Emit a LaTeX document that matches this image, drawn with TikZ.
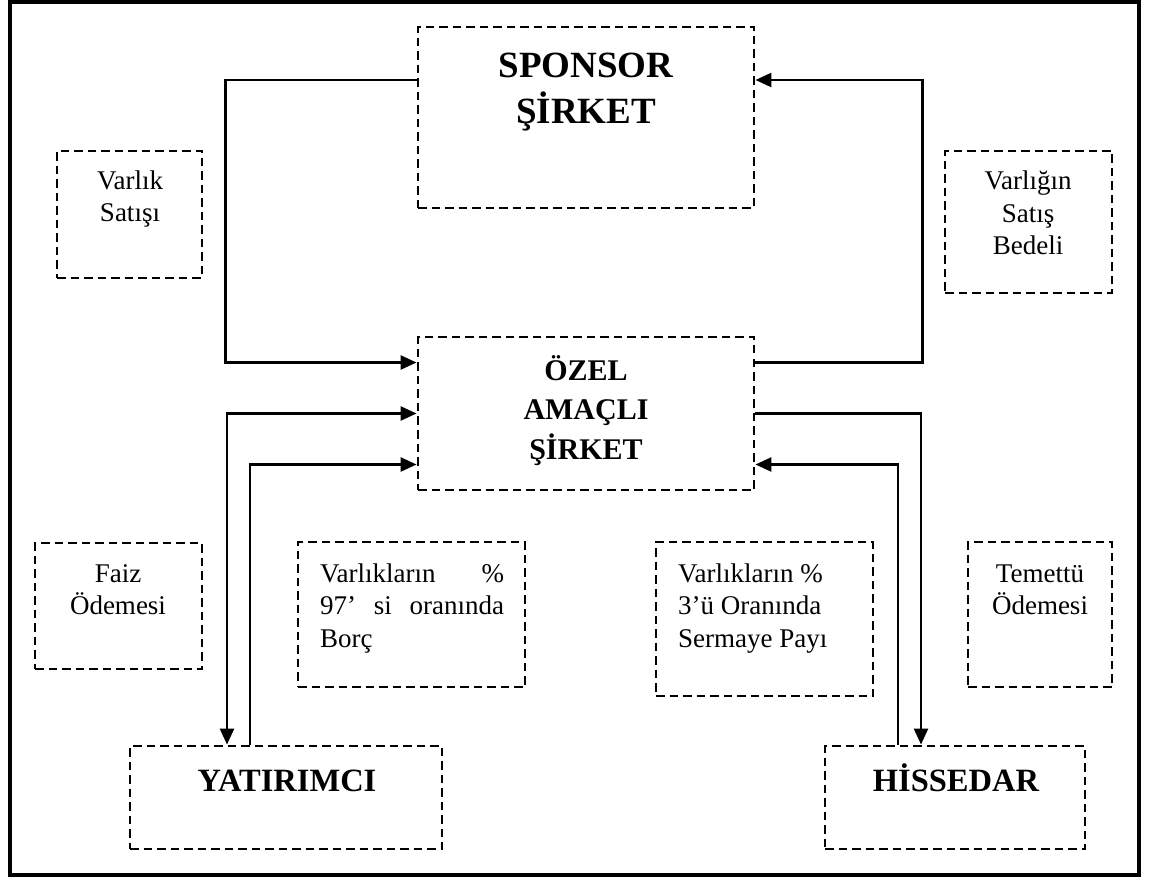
\documentclass[tikz,border=0pt]{standalone}
\usepackage{fontspec}
\setmainfont{Liberation Serif}
\usetikzlibrary{arrows.meta}

\begin{document}
\begin{tikzpicture}[x=1pt,y=-1pt,
  box/.style={draw, line width=2.9pt, dash pattern=on 8.5pt off 5pt, inner sep=0pt},
  tip/.tip={Triangle[length=16pt,width=14pt]},
  conn/.style={line width=2.6pt, -tip},
  both/.style={line width=2.6pt, tip-tip},
  big/.style={font=\fontsize{37}{46}\selectfont\bfseries, align=center, inner sep=0pt, anchor=base},
  mid/.style={font=\fontsize{30}{39.5}\selectfont\bfseries, align=center, inner sep=0pt, anchor=base},
  lab/.style={font=\fontsize{32.5}{38}\selectfont\bfseries, inner sep=0pt, anchor=base},
  small/.style={font=\fontsize{27}{32.5}\selectfont, align=center, inner sep=0pt, anchor=base},
  smallleft/.style={font=\fontsize{27}{32.5}\selectfont, align=left, inner sep=0pt, anchor=base west}]

  % canvas and outer frame
  \path[use as bounding box] (0,0) rectangle (1149,877);
  \draw[line width=3.5pt] (10,2) rectangle (1139,875);

  % main boxes
  \node[box, minimum width=336pt, minimum height=181pt] (sponsor) at (586,117.5) {};
  \node[box, minimum width=336pt, minimum height=153pt] (ozel) at (586,413.5) {};
  \node[box, minimum width=312pt, minimum height=103pt] (yatirimci) at (286,797.5) {};
  \node[box, minimum width=260pt, minimum height=103pt] (hissedar) at (955,797.5) {};

  % flow label boxes
  \node[box, minimum width=145pt, minimum height=127pt] (satis) at (129.5,214.5) {};
  \node[box, minimum width=167pt, minimum height=142pt] (bedel) at (1028.5,222) {};
  \node[box, minimum width=167pt, minimum height=126pt] (faiz) at (118.5,606) {};
  \node[box, minimum width=227pt, minimum height=145pt] (borc) at (411.5,614.5) {};
  \node[box, minimum width=217pt, minimum height=154pt] (sermaye) at (764.5,619) {};
  \node[box, minimum width=144pt, minimum height=145pt] (temettu) at (1040,614.5) {};

  % box texts (anchored at the baseline of the last line)
  \node[big] (t-sponsor) at (586,124) {SPONSOR\\ŞİRKET};
  \node[mid] (t-ozel) at (586,459) {ÖZEL\\AMAÇLI\\ŞİRKET};
  \node[lab] (t-yatirimci) at (287,791) {YATIRIMCI};
  \node[lab] (t-hissedar) at (956,791) {HİSSEDAR};

  \node[small] (t-satis) at (130,222) {Varlık\\Satışı};
  \node[small] (t-bedel) at (1028,255) {Varlığın\\Satış\\Bedeli};
  \node[small] (t-faiz) at (118,614.5) {Faiz\\Ödemesi};
  \node[small] (t-temettu) at (1040,614.5) {Temettü\\Ödemesi};
  \node[smallleft] (t-borc) at (320,647)
    {\hbox to 184pt{Varlıkların\hfill\%}\\\hbox to 184pt{97’\hfill si\hfill oranında}\\Borç};
  \node[smallleft] (t-sermaye) at (678,647)
    {Varlıkların \%\\3’ü Oranında\\Sermaye Payı};

  % connectors
  \draw[conn] ([yshift=37.5pt]sponsor.west) -- ++(-191,0) |- ([yshift=51pt]ozel.west);
  \draw[conn] ([yshift=51pt]ozel.east) -- ++(167,0) |- ([yshift=37.5pt]sponsor.east);
  \draw[both] (ozel.west) -| ([xshift=-59pt]yatirimci.north);
  \draw[conn] ([xshift=-36pt]yatirimci.north) |- ([yshift=-51pt]ozel.west);
  \draw[conn] (ozel.east) -| ([xshift=-34pt]hissedar.north);
  \draw[conn] ([xshift=-57pt]hissedar.north) |- ([yshift=-51pt]ozel.east);
\end{tikzpicture}
\end{document}
